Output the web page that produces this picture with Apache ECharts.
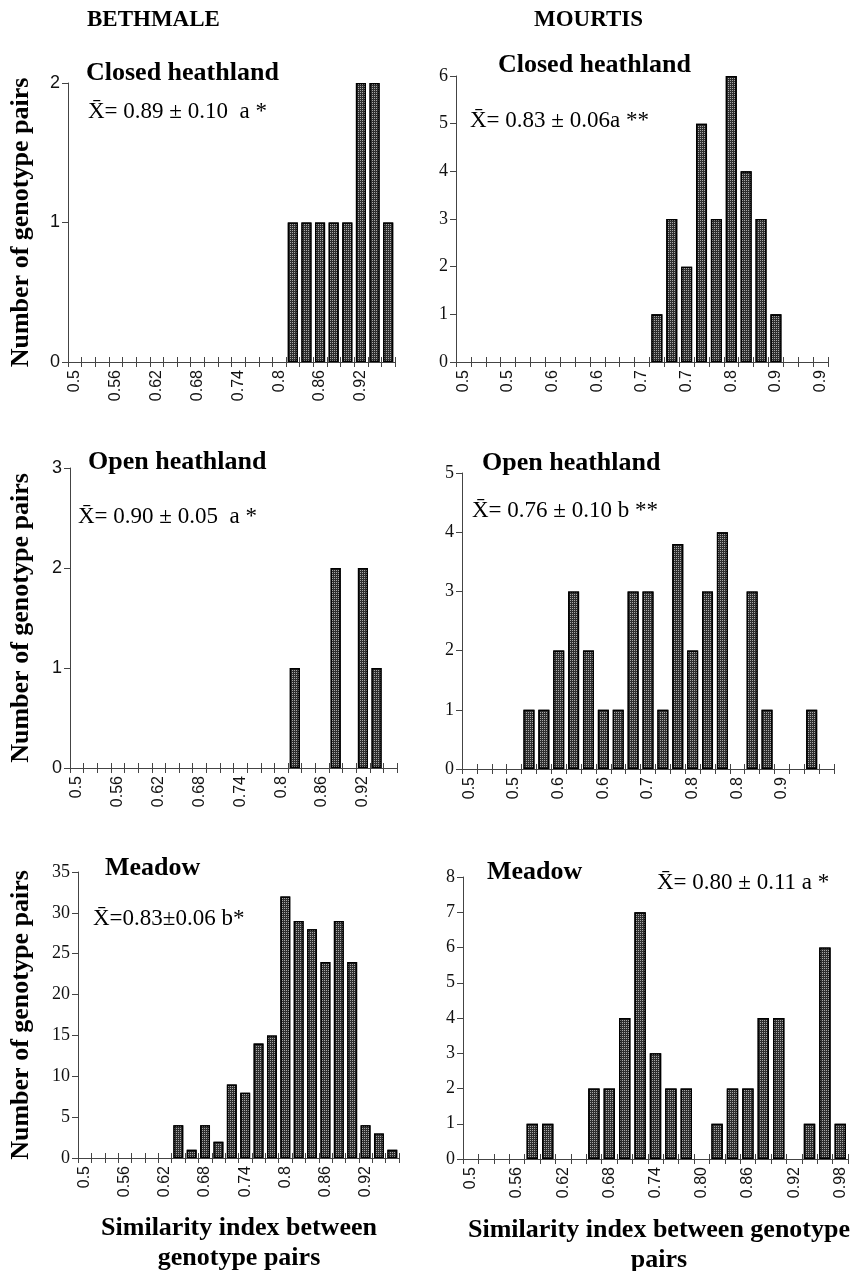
<!DOCTYPE html>
<html>
<head>
<meta charset="utf-8">
<script src="https://cdn.jsdelivr.net/npm/echarts@6/dist/echarts.min.js"></script>
<style>
html,body{margin:0;padding:0;background:#fff;}
#chart{width:861px;height:1271px;}
</style>
</head>
<body>
<div id="chart"></div>
<script>
// ---------- DATA ----------
const binsA = ['0.50','0.52','0.54','0.56','0.58','0.60','0.62','0.64','0.66','0.68','0.70','0.72',
               '0.74','0.76','0.78','0.80','0.82','0.84','0.86','0.88','0.90','0.92','0.94','0.96'];
const binsB = ['0.50','0.52','0.54','0.56','0.58','0.60','0.62','0.64','0.66','0.68','0.70','0.72',
               '0.74','0.76','0.78','0.80','0.82','0.84','0.86','0.88','0.90','0.92','0.94','0.96','0.98'];

const ticksBethmale      = ['0.5','0.56','0.62','0.68','0.74','0.8','0.86','0.92'];
const ticksMourtisClosed = ['0.5','0.5','0.6','0.6','0.7','0.7','0.8','0.9','0.9'];
const ticksMourtisOpen   = ['0.5','0.5','0.6','0.6','0.7','0.8','0.8','0.9',''];
const ticksMourtisMeadow = ['0.5','0.56','0.62','0.68','0.74','0.80','0.86','0.92','0.98'];

const bethmaleClosed = [0,0,0,0,0,0,0,0,0,0,0,0,0,0,0,0,1,1,1,1,1,2,2,1];
const mourtisClosed  = [0,0,0,0,0,0,0,0,0,0,0,0,0,1,3,2,5,3,6,4,3,1,0,0,0];
const bethmaleOpen   = [0,0,0,0,0,0,0,0,0,0,0,0,0,0,0,0,1,0,0,2,0,2,1,0];
const mourtisOpen    = [0,0,0,0,1,1,2,3,2,1,1,3,3,1,3.8,2,3,4,0,3,1,0,0,1,0];
const bethmaleMeadow = [0,0,0,0,0,0,0,4,1,4,2,9,8,14,15,32,29,28,24,29,24,4,3,1];
const mourtisMeadow  = [0,0,0,0,1,1,0,0,2,2,4,7,3,2,2,0,1,2,2,4,4,0,1,6,1];

const siteNames  = ['BETHMALE','MOURTIS'];
const habitatNames = ['Closed heathland','Open heathland','Meadow'];
const meanTexts = ['X\u0304= 0.89 \u00B1 0.10  a *','X\u0304= 0.83 \u00B1 0.06a **',
                   'X\u0304= 0.90 \u00B1 0.05  a *','X\u0304= 0.76 \u00B1 0.10 b **',
                   'X\u0304=0.83\u00B10.06 b*','X\u0304= 0.80 \u00B1 0.11 a *'];
const yAxisName = 'Number of genotype pairs';
const xAxisNameLeft = 'Similarity index between\ngenotype pairs';
const xAxisNameRight = 'Similarity index between genotype\npairs';

// ---------- LAYOUT ----------
const SERIF = '"Liberation Serif","Times New Roman",serif';
const SANS = '"Liberation Sans",Arial,sans-serif';

const panels = [
  {grid:{left:68, top:83, width:327, height:279}, bins:binsA, ticks:ticksBethmale, data:bethmaleClosed, yMax:2, yInt:1, yFont:SANS, xFont:SANS, yName:true},
  {grid:{left:456, top:76, width:372, height:286}, bins:binsB, ticks:ticksMourtisClosed, data:mourtisClosed, yMax:6, yInt:1, yFont:SERIF, xFont:SANS},
  {grid:{left:70, top:468, width:327, height:300}, bins:binsA, ticks:ticksBethmale, data:bethmaleOpen, yMax:3, yInt:1, yFont:SANS, xFont:SANS, yName:true},
  {grid:{left:462, top:473, width:372, height:296}, bins:binsB, ticks:ticksMourtisOpen, data:mourtisOpen, yMax:5, yInt:1, yFont:SERIF, xFont:SANS},
  {grid:{left:78, top:872, width:321, height:286}, bins:binsA, ticks:ticksBethmale, data:bethmaleMeadow, yMax:35, yInt:5, yFont:SERIF, xFont:SANS, yName:true},
  {grid:{left:463, top:877, width:385, height:282}, bins:binsB, ticks:ticksMourtisMeadow, data:mourtisMeadow, yMax:8, yInt:1, yFont:SERIF, xFont:SANS}
];

const AXIS_COLOR = '#444';
const grids = [], xAxes = [], yAxes = [], series = [];

panels.forEach((p, i) => {
  grids.push(Object.assign({containLabel:false}, p.grid));
  const labelArr = p.ticks;
  // main x axis: outside ticks + labels
  xAxes.push({
    type:'category', gridIndex:i, data:p.bins, position:'bottom', boundaryGap:true,
    axisLine:{show:true, lineStyle:{color:AXIS_COLOR, width:1}},
    axisTick:{show:true, interval:0, length:5, inside:false, lineStyle:{color:AXIS_COLOR}},
    axisLabel:{show:true, interval:2, rotate:90, margin:8, color:'#111', fontFamily:p.xFont, fontSize:16,
      formatter:(v, idx) => (idx % 3 === 0 ? (labelArr[idx/3] || '') : '')},
    splitLine:{show:false}
  });
  // overlay x axis: inside ticks (cross-shaped ticks)
  xAxes.push({
    type:'category', gridIndex:i, data:p.bins, position:'bottom', boundaryGap:true,
    axisLine:{show:false},
    axisTick:{show:true, interval:0, length:5, inside:true, lineStyle:{color:AXIS_COLOR}},
    axisLabel:{show:false}, splitLine:{show:false}
  });
  yAxes.push({
    type:'value', gridIndex:i, min:0, max:p.yMax, interval:p.yInt,
    axisLine:{show:true, lineStyle:{color:AXIS_COLOR, width:1}},
    axisTick:{show:true, length:6, lineStyle:{color:AXIS_COLOR}},
    axisLabel:{margin:8, color:'#111', fontFamily:p.yFont, fontSize:18},
    splitLine:{show:false},
    name: p.yName ? yAxisName : '',
    nameLocation:'middle', nameRotate:90, nameGap: p.grid.left - 34,
    nameTextStyle:{fontFamily:SERIF, fontWeight:'bold', fontSize:26, color:'#000'}
  });
  series.push({
    type:'bar', xAxisIndex:i*2, yAxisIndex:i,
    data:p.data.map(v => (v === 0 ? null : v)),
    barCategoryGap:'26%',
    itemStyle:{color:'#2e2e2e', borderColor:'#000', borderWidth:1.3,
      decal:{symbol:'rect', symbolSize:1, color:'rgba(220,220,220,0.7)', dashArrayX:[1,1], dashArrayY:[1,1]}},
    silent:true, animation:false
  });
});

// ---------- TEXTS ----------
function t(text, left, top, size, weight, align) {
  return {text:text, left:left, top:top, padding:0, textAlign:align || 'left', textVerticalAlign:'top',
    textStyle:{fontFamily:SERIF, fontSize:size, fontWeight:weight, color:'#000', lineHeight:Math.round(size*1.15)}};
}
const titles = [
  t(siteNames[0], 87, 7, 23, 'bold'),
  t(siteNames[1], 534, 7, 23, 'bold'),
  t(habitatNames[0], 86, 58, 26, 'bold'),
  t(habitatNames[0], 498, 50, 26, 'bold'),
  t(habitatNames[1], 88, 447, 26, 'bold'),
  t(habitatNames[1], 482, 448, 26, 'bold'),
  t(habitatNames[2], 105, 853, 26, 'bold'),
  t(habitatNames[2], 487, 857, 26, 'bold'),
  t(meanTexts[0], 88, 99, 23, 'normal'),
  t(meanTexts[1], 470, 108, 23, 'normal'),
  t(meanTexts[2], 78, 504, 23, 'normal'),
  t(meanTexts[3], 472, 498, 23, 'normal'),
  t(meanTexts[4], 93, 906, 23, 'normal'),
  t(meanTexts[5], 657, 870, 23, 'normal'),
  t(xAxisNameLeft, 239, 1213, 26, 'bold', 'center'),
  t(xAxisNameRight, 659, 1215, 26, 'bold', 'center')
];

const chart = echarts.init(document.getElementById('chart'), null, {renderer:'canvas'});
chart.setOption({
  animation:false,
  backgroundColor:'#fff',
  title:titles,
  grid:grids, xAxis:xAxes, yAxis:yAxes, series:series
});
</script>
</body>
</html>
